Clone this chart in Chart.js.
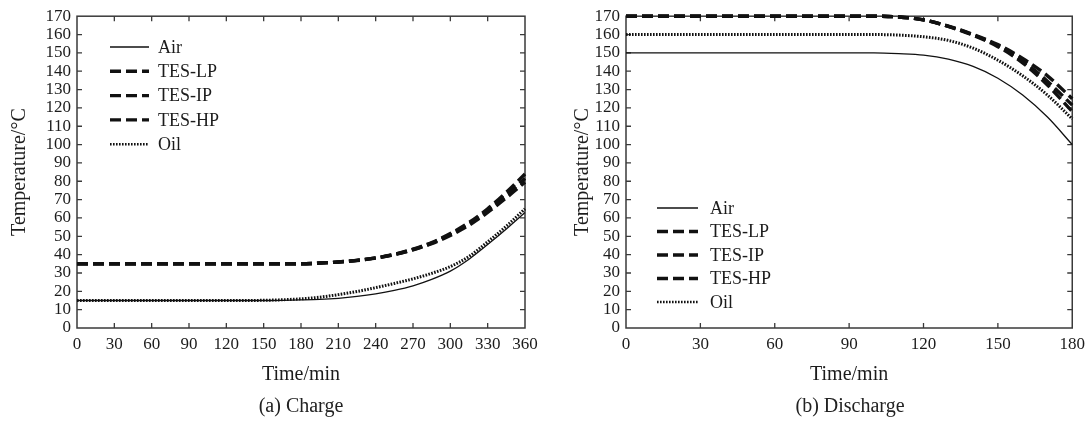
<!DOCTYPE html>
<html><head><meta charset="utf-8">
<script src="https://cdn.jsdelivr.net/npm/chart.js@4.4.1/dist/chart.umd.min.js"></script>
<style>
html,body{margin:0;padding:0;background:#fff;}
#wrap{position:relative;width:1091px;height:421px;overflow:hidden;background:#fff;}
.c{position:absolute;top:0;}
.cap{position:absolute;font-family:"Liberation Serif","Times New Roman",serif;font-size:20px;color:#222;transform:translateX(-50%);white-space:nowrap;line-height:1;}
</style></head><body>
<div id="wrap">
<div class="c" style="left:0;"><canvas id="c1" width="545" height="395"></canvas></div>
<div class="c" style="left:545px;"><canvas id="c2" width="546" height="395"></canvas></div>
<div class="cap" style="left:301px;top:395px">(a) Charge</div>
<div class="cap" style="left:850px;top:395px">(b) Discharge</div>
</div>
<script>
// ---------- DATA ----------
const seriesLabels = ['Air', 'TES-LP', 'TES-IP', 'TES-HP', 'Oil'];

// (a) Charge
const chargeTime = [0,15,30,45,60,75,90,105,120,135,150,165,180,195,210,225,240,255,270,285,300,315,330,345,360];
const chargeAir  = [15,15,15,15,15,15,15,15,15,15,15,15.1,15.3,15.6,16.2,17.2,18.6,20.5,23,26.5,31,37.5,45.5,54,63];
const chargeLP   = [35,35,35,35,35,35,35,35,35,35,35,35,35,35.4,36,36.9,38.2,40.2,43,46.6,51.5,57.5,65,74,84];
const chargeIP   = [35,35,35,35,35,35,35,35,35,35,35,35,35,35.4,36,36.9,38.2,40.1,42.8,46.3,51,56.8,64,72.5,81.5];
const chargeHP   = [35,35,35,35,35,35,35,35,35,35,35,35,35,35.4,36,36.8,38.1,40,42.6,46,50.5,56,63,71,79.5];
const chargeOil  = [15,15,15,15,15,15,15,15,15,15,15.1,15.4,15.9,16.8,18.2,19.9,22,24.3,26.8,29.8,33.5,39,47,55.5,65];

// (b) Discharge
const dischargeTime = [0,10,20,30,40,50,60,70,80,90,100,110,120,130,140,150,160,170,180];
const dischargeAir  = [150,150,150,150,150,150,150,150,150,150,150,149.6,148.8,146.6,142.6,136.2,127,115,100];
const dischargeLP   = [170,170,170,170,170,170,170,170,170,170,170,169.6,168,164.6,160,154.5,147,137.5,125];
const dischargeIP   = [170,170,170,170,170,170,170,170,170,170,170,169.6,168,164.5,159.8,154,145.7,134.5,121.5];
const dischargeHP   = [170,170,170,170,170,170,170,170,170,170,170,169.6,168,164.4,159.6,153.4,144.6,132.5,118];
const dischargeOil  = [160,160,160,160,160,160,160,160,160,160,160,159.7,158.8,156.8,152.6,146,137.5,127,114];

// ---------- STYLE ----------
const FONT = '"Liberation Serif","Times New Roman",serif';
const INK = '#1c1c1c';
const AXIS = '#3a3a3a';

const styles = [
  {borderWidth:1.3, borderDash:[]},
  {borderWidth:3.4, borderDash:[11,5]},
  {borderWidth:3.4, borderDash:[11,5]},
  {borderWidth:3.4, borderDash:[11,5]},
  {borderWidth:3.0, borderDash:[1.6,1.4]}
];

function pts(t, v){ return t.map((x,i)=>({x:x, y:v[i]})); }

function framePlugin(){
  return {
    id:'frameTicks',
    beforeDatasetsDraw(chart){
      const {ctx, chartArea:a, scales} = chart;
      ctx.save();
      ctx.strokeStyle = AXIS;
      ctx.lineWidth = 1.5;
      ctx.strokeRect(a.left, a.top, a.right-a.left, a.bottom-a.top);
      ctx.lineWidth = 1.3;
      const L = 5;
      scales.x.ticks.forEach(t=>{
        const p = scales.x.getPixelForValue(t.value);
        if (Math.abs(p-a.left)<1 || Math.abs(p-a.right)<1) return;
        ctx.beginPath();
        ctx.moveTo(p, a.bottom); ctx.lineTo(p, a.bottom-L);
        ctx.moveTo(p, a.top); ctx.lineTo(p, a.top+L);
        ctx.stroke();
      });
      scales.y.ticks.forEach(t=>{
        const p = scales.y.getPixelForValue(t.value);
        if (Math.abs(p-a.top)<1 || Math.abs(p-a.bottom)<1) return;
        ctx.beginPath();
        ctx.moveTo(a.left, p); ctx.lineTo(a.left+L, p);
        ctx.moveTo(a.right, p); ctx.lineTo(a.right-L, p);
        ctx.stroke();
      });
      ctx.restore();
    }
  };
}

function legendPlugin(cfg){
  return {
    id:'inLegend',
    afterDatasetsDraw(chart){
      const ctx = chart.ctx;
      ctx.save();
      chart.data.datasets.forEach((ds,i)=>{
        const y = cfg.y + i*cfg.gap;
        ctx.beginPath();
        ctx.setLineDash(ds.borderDash || []);
        ctx.lineWidth = i===4 ? 2.4 : ds.borderWidth;
        ctx.strokeStyle = ds.borderColor;
        ctx.moveTo(cfg.x, y); ctx.lineTo(cfg.x+cfg.len, y);
        ctx.stroke();
        ctx.setLineDash([]);
        ctx.fillStyle = INK;
        ctx.font = '18px ' + FONT;
        ctx.textBaseline = 'middle';
        ctx.textAlign = 'left';
        ctx.fillText(ds.label, cfg.x+cfg.len+cfg.textGap, y+1);
      });
      ctx.restore();
    }
  };
}

function makeChart(id, time, series, xMax, pad, yWidth, legendCfg){
  const datasets = series.map((v,i)=>({
    label: seriesLabels[i],
    data: pts(time, v),
    borderColor: '#111',
    backgroundColor: '#111',
    borderWidth: styles[i].borderWidth,
    borderDash: styles[i].borderDash,
    borderCapStyle: 'butt',
    pointRadius: 0,
    fill: false,
    cubicInterpolationMode: 'monotone',
    clip: 6
  }));
  return new Chart(document.getElementById(id), {
    type: 'line',
    data: { datasets },
    options: {
      responsive: false,
      animation: false,
      devicePixelRatio: 1,
      events: [],
      layout: { padding: pad },
      plugins: { legend:{display:false}, tooltip:{enabled:false}, title:{display:false} },
      scales: {
        x: {
          type:'linear', min:0, max:xMax,
          grid:{display:false, drawTicks:false},
          border:{display:false},
          ticks:{stepSize:30, color:INK, font:{family:FONT, size:17}, padding:6, maxRotation:0, autoSkip:false},
          title:{display:true, text:'Time/min', color:INK, font:{family:FONT, size:20}, padding:{top:4,bottom:4}},
          afterFit(s){ s.height = 63; }
        },
        y: {
          min:0, max:170,
          grid:{display:false, drawTicks:false},
          border:{display:false},
          ticks:{stepSize:10, color:INK, font:{family:FONT, size:17}, padding:6, autoSkip:false},
          title:{display:true, text:'Temperature/°C', color:INK, font:{family:FONT, size:20}, padding:{top:4,bottom:4}},
          afterFit(s){ s.width = yWidth; }
        }
      }
    },
    plugins: [framePlugin(), legendPlugin(legendCfg)]
  });
}

makeChart('c1', chargeTime, [chargeAir, chargeLP, chargeIP, chargeHP, chargeOil], 360,
  {left:4, top:15, right:20, bottom:4}, 73, {x:110, y:47, gap:24.3, len:39, textGap:9});
makeChart('c2', dischargeTime, [dischargeAir, dischargeLP, dischargeIP, dischargeHP, dischargeOil], 180,
  {left:22, top:15, right:18, bottom:4}, 59, {x:112, y:208, gap:23.5, len:41, textGap:12});
</script>
</body></html>
